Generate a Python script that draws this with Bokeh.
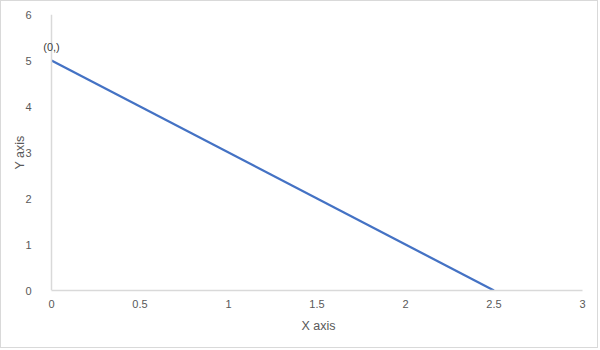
from bokeh.plotting import figure
from bokeh.models import Range1d, FixedTicker, ColumnDataSource, Label, Span, Title
from bokeh.embed import file_html
from bokeh.resources import INLINE

x_vals = [0, 2.5]
y_vals = [5, 0]
point_labels = ["(0,)", ""]
x_ticks = [0, 0.5, 1, 1.5, 2, 2.5, 3]
y_ticks = [0, 1, 2, 3, 4, 5, 6]
x_title = "X axis"
y_title = "Y axis"

FONT = "Liberation Sans"

p = figure(width=598, height=348, output_backend="svg", toolbar_location=None,
           x_range=Range1d(-18 / 177, 3), y_range=Range1d(0, 6),
           min_border_left=32, min_border_right=17, min_border_top=13, min_border_bottom=59)
p.styles = {"border": "1px solid #d9d9d9"}

src = ColumnDataSource(dict(x=x_vals, y=y_vals))
p.line("x", "y", source=src, line_color="#4472c4", line_width=2.25)
p.add_layout(Label(x=x_vals[0], y=y_vals[0], text=point_labels[0], text_align="center",
                   text_baseline="bottom", y_offset=8, text_font=FONT,
                   text_font_size="11px", text_color="#404040", level="overlay"))
p.add_layout(Span(location=x_ticks[0], dimension="height", line_color="#d9d9d9", line_width=1.5))

p.grid.visible = False
p.outline_line_color = None
for ax in (p.xaxis[0], p.yaxis[0]):
    ax.major_tick_line_color = None
    ax.minor_tick_line_color = None
    ax.axis_line_color = "#d9d9d9"
    ax.axis_line_width = 1.5
    ax.major_label_text_font = FONT
    ax.major_label_text_font_size = "11px"
    ax.major_label_text_color = "#595959"
    ax.axis_label_text_font = FONT
    ax.axis_label_text_font_size = "12.5px"
    ax.axis_label_text_font_style = "normal"
    ax.axis_label_text_color = "#595959"

p.xaxis.ticker = FixedTicker(ticks=x_ticks)
p.yaxis.ticker = FixedTicker(ticks=y_ticks)
p.xaxis.bounds = (x_ticks[0], x_ticks[-1])
p.yaxis.axis_line_color = None
p.yaxis.axis_label = y_title
p.xaxis.major_label_standoff = 3
p.yaxis.major_label_standoff = -4
p.yaxis.axis_label_standoff = -5

p.add_layout(Title(text=x_title, align="left", offset=268, text_font=FONT,
                   text_font_size="12.5px", text_font_style="normal",
                   text_color="#595959", standoff=12), "below")

open("out.html", "w").write(file_html(p, INLINE))
